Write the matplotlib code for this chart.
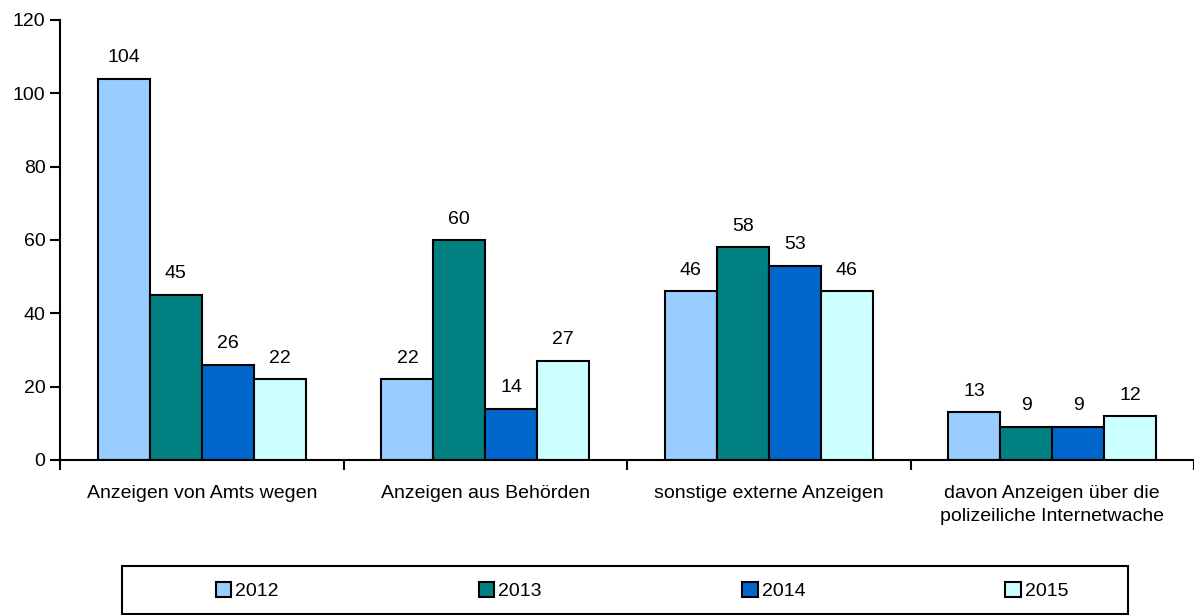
import matplotlib.pyplot as plt
import numpy as np
from matplotlib.patches import Rectangle

plt.rcParams['font.family'] = ['Liberation Sans', 'DejaVu Sans']

categories = ['Anzeigen von Amts wegen', 'Anzeigen aus Behörden',
              'sonstige externe Anzeigen',
              'davon Anzeigen über die\npolizeiliche Internetwache']
years = ['2012', '2013', '2014', '2015']
v2012 = [104, 22, 46, 13]
v2013 = [45, 60, 58, 9]
v2014 = [26, 14, 53, 9]
v2015 = [22, 27, 46, 12]
series = [v2012, v2013, v2014, v2015]
colors = ['#99ccff', '#008080', '#0066cc', '#ccffff']
fs = 14

fig = plt.figure(figsize=(11.94, 6.15), dpi=100)
ax = fig.add_axes([60 / 1194, 1 - 460 / 615, 1 - 60 / 1194, 440 / 615])

x = np.arange(len(categories))
w = 0.183
for i, (vals, c, yr) in enumerate(zip(series, colors, years)):
    pos = x + (i - 1.5) * w
    bars = ax.bar(pos, vals, w, color=c, edgecolor='black', linewidth=1.5, label=yr)
    for b, v in zip(bars, vals):
        ax.annotate(str(v), (b.get_x() + b.get_width() / 2, v), xytext=(0, 9),
                    textcoords='offset points', ha='center', va='bottom', fontsize=fs)

ax.set_xlim(-0.5, len(categories) - 0.5)
ax.set_ylim(0, 120)
ax.set_yticks(range(0, 121, 20))
ax.set_xticks(np.arange(-0.5, len(categories), 1.0))
ax.set_xticklabels([])
ax.set_xticks(x, minor=True)
ax.set_xticklabels(categories, minor=True, fontsize=fs, linespacing=1.45)
ax.tick_params(axis='x', which='minor', length=0, pad=18)
ax.tick_params(axis='x', which='major', length=7, width=1.5, direction='out')
ax.tick_params(axis='y', length=7, width=1.5, labelsize=fs)
for s in ['top', 'right']:
    ax.spines[s].set_visible(False)
for s in ['left', 'bottom']:
    ax.spines[s].set_linewidth(1.5)

# legend frame drawn separately, entries spread across it
fig.patches.append(Rectangle((122 / 1194, 0.001), 1006 / 1194, 48 / 615,
                             transform=fig.transFigure, fill=False,
                             edgecolor='black', linewidth=1.5))
leg = fig.legend(loc='center', bbox_to_anchor=(642 / 1194, 24 / 615),
                 ncol=4, fontsize=fs, frameon=False,
                 handlelength=0.8, handleheight=0.8, handletextpad=0.2,
                 columnspacing=10.3, borderaxespad=0)

fig.savefig('out.png', dpi=100)
